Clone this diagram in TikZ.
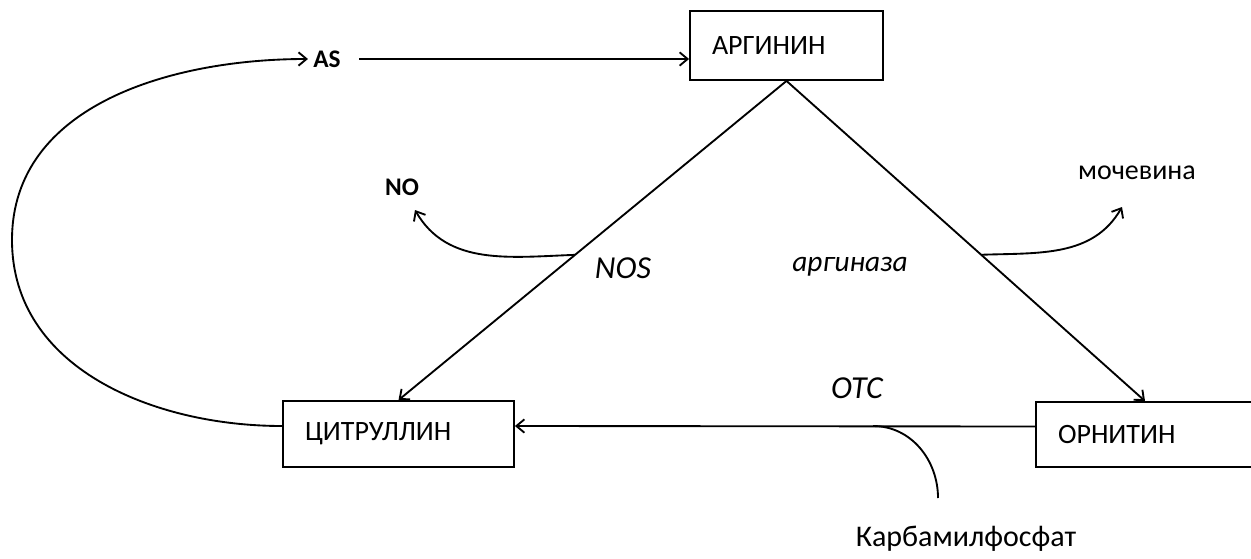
\documentclass[tikz,border=0pt]{standalone}
\usepackage{fontspec}
\setmainfont{Carlito}
\usetikzlibrary{arrows.meta,calc,positioning}
\tikzset{box/.style={draw, rectangle, align=left, inner xsep=16.5pt, font=\fontsize{21}{25}\selectfont}}
\tikzstyle{enz}=[font=\fontsize{22}{26}\selectfont\itshape]
\tikzstyle{txt}=[font=\fontsize{21}{25}\selectfont]
\tikzstyle{sm}=[font=\fontsize{19}{22}\selectfont\bfseries]

\begin{document}
\begin{tikzpicture}[>={Straight Barb[length=6pt,width=10pt]}, line width=1.4pt, x=0.75pt, y=0.75pt]
\useasboundingbox (0,0) rectangle (1251,558);
\clip (0,0) rectangle (1251,558);
\node[box, text width=180pt, minimum height=48.75pt] (orn) at (1178,123.5) {ОРНИТИН};
\node[box, text width=111.75pt, minimum height=51.75pt] (arg) at (786.5,512.5) {АРГИНИН};
\node[box, text width=140.25pt, minimum height=49.5pt] (cit) at (398.5,124) {ЦИТРУЛЛИН};
\node[sm] (as) at (327,499) {AS};
\node[sm] (no) at (402,371) {NO};
\node[enz, font=\fontsize{24}{28}\selectfont\itshape] (nos) at (623,290) {NOS};
\node[enz] (argase) at (850,291) {аргиназа};
\node[enz, font=\fontsize{24}{28}\selectfont\itshape] (otc) at (857,170) {OTC};
\node[txt] (urea) at (1137,385) {мочевина};
\node[txt, font=\fontsize{22.5}{27}\selectfont] (carb) at (966,19) {Карбамилфосфат};
\coordinate (ornin) at ([xshift=-24.75pt]orn.north);
\coordinate (nostart) at ($(arg.south)!0.545!(cit.north)$);
\coordinate (ureastart) at ($(arg.south)!0.543!(ornin)$);
\coordinate (notip) at (415,348);
\coordinate (ureatip) at (1122,351);
\coordinate (carbstart) at (938,60);
\coordinate (otcjoin) at (873,132);
\path[->] (arg.south) edge (cit.north)
          (arg.south) edge (ornin)
          ([yshift=6pt]orn.west) edge ([yshift=6pt]cit.east)
          (as.east) edge[shorten <=10pt] (as -| arg.west);
\draw[->] ([yshift=6pt]cit.west) to[out=180,in=270] (12,318) to[out=90,in=180] (as.west);
\draw[->] (nostart) to[out=182,in=-60] (notip);
\draw[->] (ureastart) to[out=2,in=-120] (ureatip);
\draw (carbstart) to[out=90,in=0] (otcjoin);
\end{tikzpicture}
\end{document}
